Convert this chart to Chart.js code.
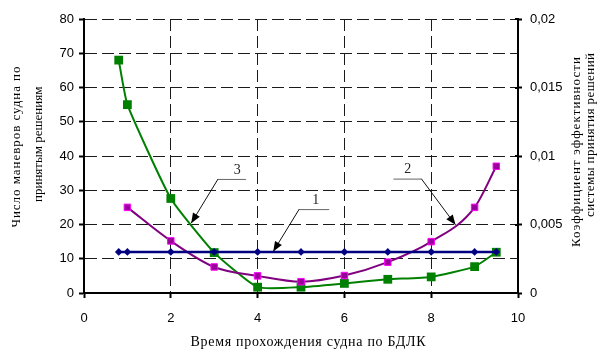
<!DOCTYPE html>
<html><head><meta charset="utf-8">
<script src="https://cdn.jsdelivr.net/npm/chart.js@4/dist/chart.umd.min.js"></script>
<style>html,body{margin:0;padding:0;background:#fff}#c{display:block}</style>
</head><body>
<canvas id="c" width="601" height="356"></canvas>
<script>
// ---- data ----
const xTickValues = [0, 2, 4, 6, 8, 10];
const leftTickValues = [0, 10, 20, 30, 40, 50, 60, 70, 80];
const rightTickValues = [0, 0.005, 0.01, 0.015, 0.02];

const series1X = [0.8, 1, 2, 3, 4, 5, 6, 7, 8, 9, 9.5];
const series1Y = [12, 12, 12, 12, 12, 12, 12, 12, 12, 12, 12];

const series2X = [1, 2, 3, 4, 5, 6, 7, 8, 9, 9.5];
const series2Y = [25, 15.2, 7.6, 5, 3.3, 5.1, 9, 15, 25, 37];

const series3X = [0.8, 1, 2, 3, 4, 5, 6, 7, 8, 9, 9.5];
const series3Y = [68, 55, 27.6, 11.8, 1.7, 1.7, 2.8, 4, 4.7, 7.7, 11.9];

// annotation callouts (data units): label, label pos, underline ends, arrow tip
const annLabels = ['1', '2', '3'];
const annTextX = [5.34, 7.46, 3.53];
const annTextY = [27.0, 36.0, 35.8];
const annLineX1 = [4.96, 7.13, 3.09];
const annLineX2 = [5.65, 7.77, 3.73];
const annLineY = [24.5, 33.4, 33.3];
const annTipX = [4.36, 8.56, 2.47];
const annTipY = [12.1, 19.9, 20.4];
const annStartRight = [false, true, false];

const xTitle = 'Время прохождения судна по БДЛК';
const leftTitle = ['Число маневров судна по', 'принятым решениям'];
const rightTitle = ['Коэффициент эффективности', 'системы принятия решений'];

const toPts = (xs, ys) => xs.map((x, i) => ({x, y: ys[i]}));

const tickFont = {family: "'Liberation Sans Narrow','Arial Narrow','Liberation Sans',sans-serif", size: 13};
const gridColor = '#1a1a1a';

const extras = {
  id: 'extras',
  afterDraw(chart) {
    const ctx = chart.ctx;
    const xs = chart.scales.x, ys = chart.scales.y, yr = chart.scales.y2;
    const ca = chart.chartArea;
    ctx.save();
    // inner ticks on right axis
    ctx.strokeStyle = '#000'; ctx.lineWidth = 2;
    rightTickValues.forEach(v => {
      const py = Math.round(yr.getPixelForValue(v));
      ctx.beginPath(); ctx.moveTo(ca.right - 3, py); ctx.lineTo(ca.right, py); ctx.stroke();
    });
    // callouts
    ctx.font = "14px 'Liberation Serif','Times New Roman',serif";
    ctx.textAlign = 'center'; ctx.textBaseline = 'middle';
    annLabels.forEach((lab, i) => {
      const x1 = xs.getPixelForValue(annLineX1[i]), x2 = xs.getPixelForValue(annLineX2[i]);
      const ly = ys.getPixelForValue(annLineY[i]);
      const tx = xs.getPixelForValue(annTipX[i]), ty = ys.getPixelForValue(annTipY[i]);
      ctx.strokeStyle = '#666'; ctx.lineWidth = 1;
      ctx.beginPath(); ctx.moveTo(x1, ly + 0.5); ctx.lineTo(x2, ly + 0.5); ctx.stroke();
      const sx = annStartRight[i] ? x2 : x1;
      ctx.strokeStyle = '#111';
      ctx.beginPath(); ctx.moveTo(sx, ly); ctx.lineTo(tx, ty); ctx.stroke();
      const ang = Math.atan2(ty - ly, tx - sx);
      const L = 10, W = 4;
      ctx.fillStyle = '#000';
      ctx.beginPath();
      ctx.moveTo(tx, ty);
      ctx.lineTo(tx - L * Math.cos(ang) + W * Math.sin(ang), ty - L * Math.sin(ang) - W * Math.cos(ang));
      ctx.lineTo(tx - L * Math.cos(ang) - W * Math.sin(ang), ty - L * Math.sin(ang) + W * Math.cos(ang));
      ctx.closePath(); ctx.fill();
      ctx.fillStyle = '#222';
      ctx.fillText(lab, xs.getPixelForValue(annTextX[i]), ys.getPixelForValue(annTextY[i]));
    });
    // titles
    const drawStretched = (text, cx, cy, width, rot, font) => {
      ctx.save();
      ctx.font = font;
      ctx.letterSpacing = '0px';
      const w0 = ctx.measureText(text).width;
      const ls = Math.max(0, (width - w0) / (text.length - 1));
      ctx.letterSpacing = ls + 'px';
      ctx.translate(cx, cy); ctx.rotate(rot);
      ctx.fillStyle = '#000'; ctx.textAlign = 'left'; ctx.textBaseline = 'middle';
      ctx.fillText(text, -width / 2, 0);
      ctx.restore();
    };
    const serif = "13px 'Liberation Serif','Times New Roman',serif";
    drawStretched(xTitle, 308, 342, 235, 0, "14px 'Liberation Serif','Times New Roman',serif");
    drawStretched(leftTitle[0], 17, 147, 161, -Math.PI / 2, serif);
    drawStretched(leftTitle[1], 39, 145, 114, -Math.PI / 2, serif);
    drawStretched(rightTitle[0], 577, 152, 190, -Math.PI / 2, serif);
    drawStretched(rightTitle[1], 591, 135, 164, -Math.PI / 2, serif);
    ctx.restore();
  }
};

new Chart(document.getElementById('c'), {
  type: 'line',
  data: {
    datasets: [
      {
        label: '1', data: toPts(series1X, series1Y), yAxisID: 'y',
        borderColor: '#000080', backgroundColor: '#000080', borderWidth: 2.5,
        pointStyle: 'rectRot', pointRadius: 3.8, pointBorderWidth: 0, tension: 0
      },
      {
        label: '2', data: toPts(series2X, series2Y), yAxisID: 'y',
        borderColor: '#800080', backgroundColor: '#990099', borderWidth: 2,
        pointBorderColor: '#ff00ff', pointBorderWidth: 1,
        pointStyle: 'rect', pointRadius: 4.6, cubicInterpolationMode: 'monotone'
      },
      {
        label: '3', data: toPts(series3X, series3Y), yAxisID: 'y',
        borderColor: '#008000', backgroundColor: '#008000', borderWidth: 2,
        pointBorderColor: '#008000', pointBorderWidth: 0,
        pointStyle: 'rect', pointRadius: 6.2, tension: 0.15
      }
    ]
  },
  options: {
    responsive: false, maintainAspectRatio: false, animation: false, devicePixelRatio: 1,
    layout: {padding: {left: 0, right: 0, top: 19, bottom: 0}},
    plugins: {legend: {display: false}, tooltip: {enabled: false}},
    elements: {line: {fill: false}},
    scales: {
      x: {
        type: 'linear', min: 0, max: 10,
        afterFit: s => { s.height = 63; },
        afterBuildTicks: s => { s.ticks = xTickValues.map(v => ({value: v})); },
        ticks: {font: tickFont, color: '#000', padding: 13, maxRotation: 0},
        grid: {color: gridColor, lineWidth: 1, tickLength: 5,
               tickColor: '#000', tickWidth: 2, tickBorderDash: []},
        border: {display: true, color: '#000', width: 2, dash: [12, 5]}
      },
      y: {
        type: 'linear', position: 'left', min: 0, max: 80,
        afterFit: s => { s.width = 84; },
        afterBuildTicks: s => { s.ticks = leftTickValues.map(v => ({value: v})); },
        ticks: {font: tickFont, color: '#000', padding: 5},
        grid: {color: gridColor, lineWidth: 1, tickLength: 5,
               tickColor: '#000', tickWidth: 2, tickBorderDash: []},
        border: {display: true, color: '#000', width: 2, dash: [12, 5]}
      },
      y2: {
        type: 'linear', position: 'right', min: 0, max: 0.02,
        afterFit: s => { s.width = 83; },
        afterBuildTicks: s => { s.ticks = rightTickValues.map(v => ({value: v})); },
        ticks: {font: tickFont, color: '#000', padding: 8,
                callback: v => String(v).replace('.', ',')},
        grid: {drawOnChartArea: false, tickLength: 4, tickColor: '#000', tickWidth: 2},
        border: {display: true, color: '#000', width: 2}
      }
    }
  },
  plugins: [extras]
});
</script>
</body></html>
